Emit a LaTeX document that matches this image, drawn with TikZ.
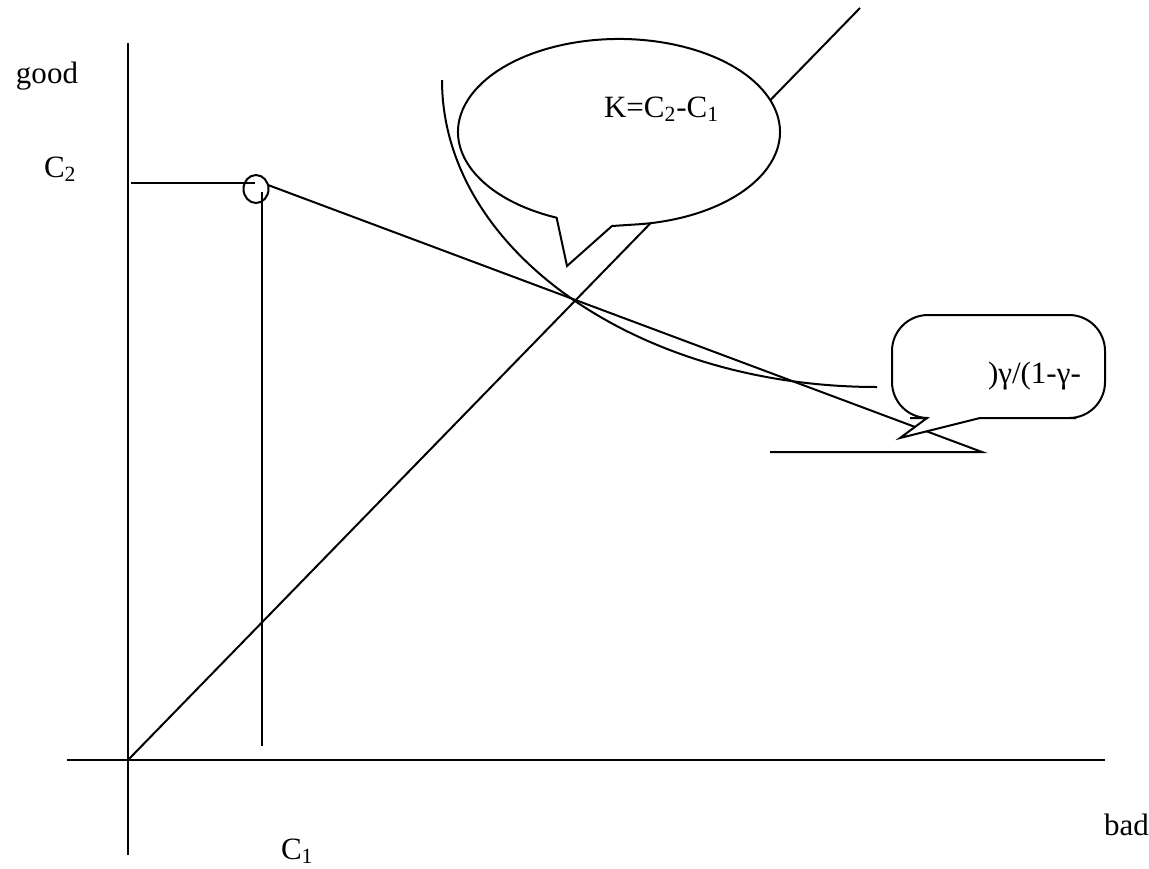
\documentclass[tikz,border=0pt]{standalone}
\usepackage{fontspec}
\setmainfont{Liberation Serif}
\usepackage{tikz}
\newcommand\figfont{\fontsize{15.5pt}{18pt}\selectfont}

\begin{document}
\begin{tikzpicture}[x=0.5pt, y=-0.5pt, line width=1pt,
  every node/.style={font=\figfont, inner sep=0pt},
  txt/.style={anchor=base west},
  bubble/.style={draw, fill=white}]
  \useasboundingbox (0,0) rectangle (1149,868);
  \coordinate (o) at (128,760);
  \coordinate (ytop) at (128,43);
  \coordinate (ybot) at (128,855);
  \coordinate (xleft) at (67,760);
  \coordinate (xright) at (1105,760);
  \coordinate (diag) at (860,8);
  \coordinate (pt) at (256,189);
  \coordinate (bend) at (982,452);
  \coordinate (bleft) at (770,452);
  \draw (ytop) -- (ybot);
  \draw (xleft) -- (xright);
  \draw (o) -- (diag);
  \draw (131,183) -- (255,183);
  \draw (262,192) -- (262,746);
  \draw (pt) ellipse [x radius=12.5, y radius=14];
  \draw (268,185) -- (bend) -- (bleft);
  \draw (442,80) arc [start angle=180, end angle=90, x radius=435, y radius=307];
  \draw[bubble] (556.6,217.7) arc [start angle=112.8, end angle=445, x radius=161, y radius=93]
    -- (612,226) -- (567,266) -- cycle;
  \draw[bubble, rounded corners=18] (1000,315) -- (1105,315) -- (1105,418) -- (1040,418)
    [sharp corners] -- (980,418) -- (900,438) -- (927,418) -- (910,418)
    [rounded corners=18] -- (892,418) -- (892,315) -- cycle;
  \node[txt] (good) at (15,83) {good};
  \node[txt] (ctwo) at (43,177) {C\textsubscript{2}};
  \node[txt] (cone) at (280,859) {C\textsubscript{1}};
  \node[txt] (bad) at (1103,835) {bad};
  \node[txt] (kdiff) at (603,117) {K=C\textsubscript{2}-C\textsubscript{1}};
  \node[txt] (ratio) at (987,383) {)γ/(1-γ-};
\end{tikzpicture}
\end{document}
